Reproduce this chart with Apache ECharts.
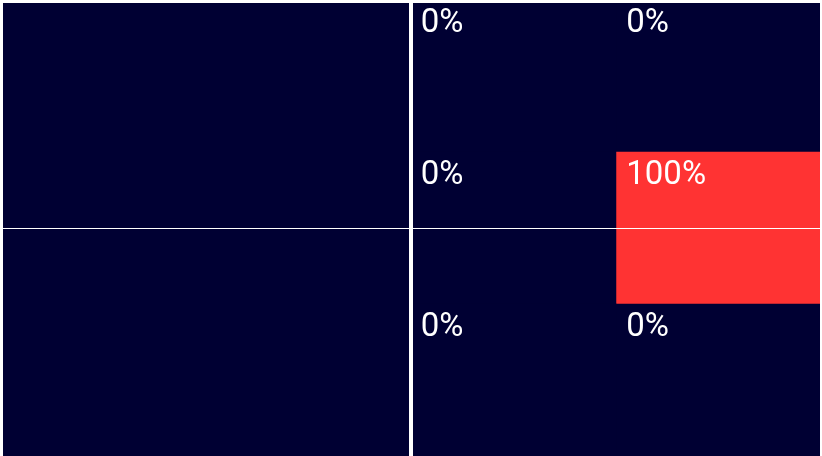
<!DOCTYPE html>
<html>
<head>
<meta charset="utf-8">
<script src="https://cdn.jsdelivr.net/npm/echarts@6/dist/echarts.min.js"></script>
<style>
html,body{margin:0;padding:0;background:#ffffff;}
#chart{width:822px;height:456px;}
</style>
</head>
<body>
<div id="chart"></div>
<script>
var xCategories = ['c0', 'c1', 'c2', 'c3'];
var yCategories = ['r0', 'r1', 'r2'];
var cellValues = [
  [2, 0, 0], [3, 0, 0],
  [2, 1, 0], [3, 1, 100],
  [2, 2, 0], [3, 2, 0]
];

var chart = echarts.init(document.getElementById('chart'));
chart.setOption({
  animation: false,
  backgroundColor: '#ffffff',
  grid: {
    left: 0, top: 0, right: 0, bottom: 0,
    show: true, backgroundColor: '#000033', borderWidth: 0
  },
  xAxis: [{
    type: 'category',
    data: xCategories,
    axisLine: { show: false },
    axisTick: { show: false },
    axisLabel: { show: false },
    splitLine: { show: false }
  }, {
    type: 'value',
    min: 0, max: xCategories.length, interval: 2,
    position: 'top',
    z: 5,
    axisLine: { show: true, lineStyle: { color: '#ffffff', width: 6 } },
    axisTick: { show: false },
    axisLabel: { show: false },
    splitLine: {
      show: true, showMinLine: false, showMaxLine: false,
      lineStyle: { color: '#ffffff', width: 4 }
    }
  }],
  yAxis: [{
    type: 'category',
    data: yCategories,
    inverse: true,
    z: 5,
    axisLine: { show: true, lineStyle: { color: '#ffffff', width: 6 } },
    axisTick: { show: false },
    axisLabel: { show: false },
    splitLine: { show: false }
  }, {
    type: 'value',
    min: 0, max: yCategories.length, interval: 1.5,
    position: 'right',
    z: 5,
    axisLine: { show: true, lineStyle: { color: '#ffffff', width: 4 } },
    axisTick: { show: false },
    axisLabel: { show: false },
    splitLine: {
      show: true, showMinLine: false, showMaxLine: false,
      lineStyle: { color: '#ffffff', width: 1 }
    }
  }],
  visualMap: {
    show: false,
    min: 0,
    max: 100,
    dimension: 2,
    inRange: { color: ['#000033', '#ff3333'] }
  },
  series: [{
    type: 'heatmap',
    xAxisIndex: 0,
    yAxisIndex: 0,
    data: cellValues,
    label: {
      show: true,
      position: 'insideTopLeft',
      distance: 10,
      color: '#ffffff',
      fontSize: 33,
      fontFamily: 'Roboto',
      lineHeight: 33,
      padding: [-3, 0, 0, 0],
      formatter: function (p) { return p.value[2] + '%'; }
    },
    emphasis: { disabled: true }
  }]
});
</script>
</body>
</html>
